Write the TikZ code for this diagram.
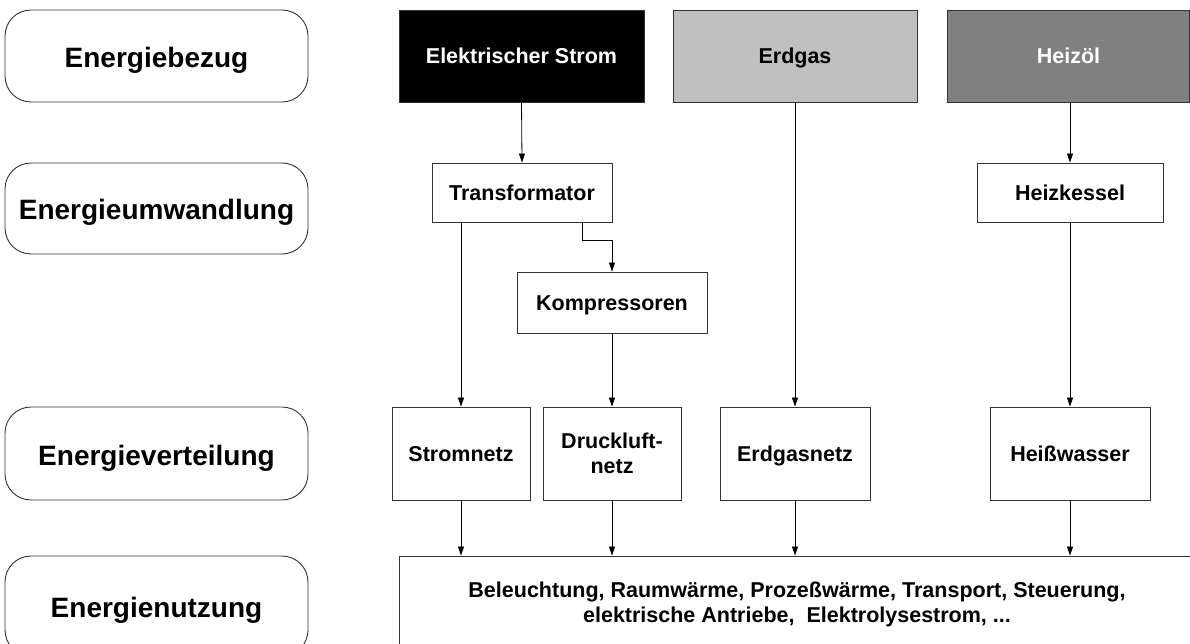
\documentclass[tikz,border=0pt]{standalone}
\usepackage{fontspec}
\setmainfont{Liberation Sans}
\usetikzlibrary{arrows.meta}
\definecolor{edge}{HTML}{333333}
\definecolor{gaslight}{HTML}{C0C0C0}
\definecolor{oilgray}{HTML}{808080}
\tikzset{
  stage/.style={draw=edge, line width=0.9pt, rounded corners=26pt, minimum width=303pt, align=center,
    font=\bfseries\fontsize{28}{33}\selectfont, inner sep=0pt, text height=25pt, text depth=2pt},
  box/.style={draw=edge, line width=0.9pt, align=center, inner sep=0pt,
    font=\bfseries\fontsize{21.5}{25}\selectfont},
  one/.style={text height=17.5pt, text depth=2pt},
  conn/.style={line width=0.8pt, -{Triangle[length=9pt,width=6pt]}}
}
\begin{document}
\begin{tikzpicture}[x=1pt,y=-1pt]
\useasboundingbox[fill=white] (0,0) rectangle (1190,644);
% left stage boxes
\node[stage, minimum height=92pt] (l1) at (156.5,56) {Energiebezug};
\node[stage, minimum height=91pt] (l2) at (156.5,208.5) {Energieumwandlung};
\node[stage, minimum height=93pt] (l3) at (156.5,453.5) {Energieverteilung};
\node[stage, minimum height=100pt] (l4) at (156.5,606) {Energienutzung};
% sources
\node[box, one, fill=black, text=white, minimum width=245pt, minimum height=92pt] (strom) at (521.5,56) {Elektrischer Strom};
\node[box, one, fill=gaslight, minimum width=244pt, minimum height=92pt] (gas) at (795,56) {Erdgas};
\node[box, one, fill=oilgray, text=white, minimum width=242pt, minimum height=92pt] (oel) at (1068.5,56) {Heizöl};
% conversion
\node[box, one, minimum width=180pt, minimum height=59pt] (trafo) at (522,192.5) {Transformator};
\node[box, one, minimum width=186pt, minimum height=59pt] (kessel) at (1070,192.5) {Heizkessel};
\node[box, one, minimum width=190pt, minimum height=61pt] (komp) at (612,302.5) {Kompressoren};
% distribution
\node[box, one, minimum width=138pt, minimum height=93pt] (snetz) at (461,453.5) {Stromnetz};
\node[box, minimum width=138pt, minimum height=93pt] (dnetz) at (612,453.5) {Druckluft-\\netz};
\node[box, one, minimum width=150pt, minimum height=93pt] (gnetz) at (795,453.5) {Erdgasnetz};
\node[box, one, minimum width=160pt, minimum height=93pt] (hw) at (1070,453.5) {Heißwasser};
% use
\node[box, minimum width=796pt, minimum height=97pt] (nutz) at (797,604.5)
  {Beleuchtung, Raumwärme, Prozeßwärme, Transport, Steuerung,\\elektrische Antriebe,\ \ Elektrolysestrom, ...};
% connectors
\draw[conn] (strom.south) -- (trafo.north);
\draw[conn] (oel.south -| kessel) -- (kessel.north);
\draw[conn] (trafo.south -| snetz) -- (snetz.north);
\draw[conn] ([xshift=-30pt]trafo.south east) -- ++(0,18) -| (komp.north);
\draw[conn] (komp.south) -- (dnetz.north);
\draw[conn] (gas.south) -- (gnetz.north);
\draw[conn] (kessel.south) -- (hw.north);
\draw[conn] (snetz.south) -- (snetz.south |- nutz.north);
\draw[conn] (dnetz.south) -- (dnetz.south |- nutz.north);
\draw[conn] (gnetz.south) -- (gnetz.south |- nutz.north);
\draw[conn] (hw.south) -- (hw.south |- nutz.north);
\end{tikzpicture}
\end{document}
